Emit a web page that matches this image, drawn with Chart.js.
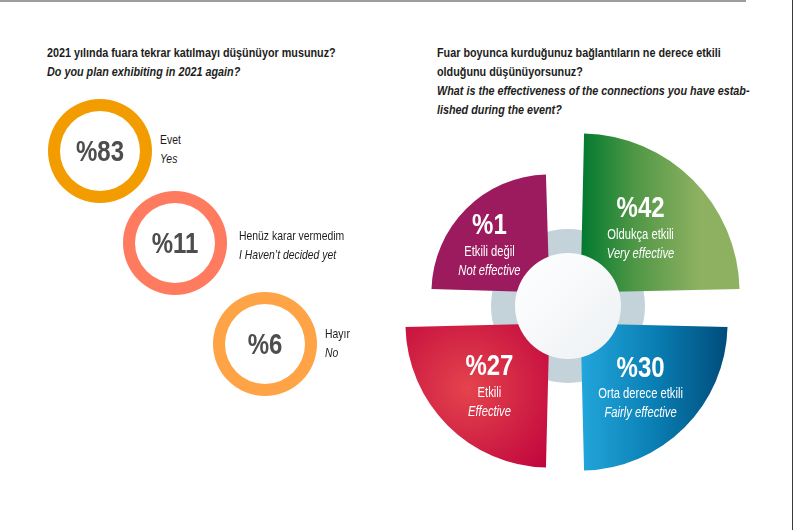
<!DOCTYPE html>
<html lang="tr">
<head>
<meta charset="utf-8">
<title>Fuar anketi</title>
<script src="https://cdn.jsdelivr.net/npm/chart.js@4.4.1/dist/chart.umd.min.js"></script>
<style>
  html, body { margin: 0; padding: 0; background: #fff; }
  body {
    width: 794px; height: 530px; position: relative; overflow: hidden;
    font-family: 'Liberation Sans', Arial, sans-serif;
    color: #1d1d1b;
  }
  .topline { position: absolute; left: 0; top: 0; width: 746px; height: 2px; background: #9d9d9d; }
  .sideline { position: absolute; left: 792px; top: 0; width: 1px; height: 530px; background: #3a3a3a; }
  .narrow { transform: scaleX(0.8); transform-origin: 0 0; }
  .title { position: absolute; top: 43px; font-size: 13.5px; font-weight: bold; line-height: 19px; white-space: nowrap; }
  .title i { display: block; }
  .ring { position: absolute; }
  .lbl { position: absolute; font-size: 13px; line-height: 19px; white-space: nowrap; }
  .lbl i { display: block; }
  #effChart { position: absolute; left: 375px; top: 118px; }
</style>
</head>
<body>
<div class="topline"></div>
<div class="sideline"></div>

<div class="title narrow" style="left:47px">2021 yılında fuara tekrar katılmayı düşünüyor musunuz?<i>Do you plan exhibiting in 2021 again?</i></div>
<div class="title narrow" style="left:437px">Fuar boyunca kurduğunuz bağlantıların ne derece etkili<br>olduğunu düşünüyorsunuz?<i>What is the effectiveness of the connections you have estab-<br>lished during the event?</i></div>

<div id="rings"></div>
<canvas id="effChart" width="380" height="380"></canvas>

<script>
// --- Data ---
const planValues = [83, 11, 6];
const planLabelsTr = ['Evet', 'Henüz karar vermedim', 'Hayır'];
const planLabelsEn = ['Yes', 'I Haven’t decided yet', 'No'];

const effValues = [42, 30, 27, 1];
const effLabelsTr = ['Oldukça etkili', 'Orta derece etkili', 'Etkili', 'Etkili değil'];
const effLabelsEn = ['Very effective', 'Fairly effective', 'Effective', 'Not effective'];

// --- Styles / layout ---
const FONT = "'Liberation Sans', Arial, sans-serif";
const SQUEEZE = 0.8; // fake a condensed face
const planColors = ['#f39c00', '#ff7b60', '#ffa446'];
const ringSpots = [
    { x: 45,  y: 96,  lx: 160, ly: 130 },
    { x: 120, y: 188, lx: 239, ly: 226 },
    { x: 210, y: 289, lx: 325, ly: 324 }
];
// polarArea arcs have no circumference prop, so chart.js both moves them
// by offset/4 and grows their radius by offset/4
const OFFSET = 88;

function narrowText(ctx, txt, x, y) {
    ctx.save();
    ctx.translate(x, y);
    ctx.scale(SQUEEZE, 1);
    ctx.fillText(txt, 0, 0);
    ctx.restore();
}

// --- Left: three rings ---
const ringText = {
    id: 'ringText',
    afterDatasetsDraw(chart) {
        const arc = chart.getDatasetMeta(0).data[0];
        const ctx = chart.ctx;
        ctx.save();
        ctx.fillStyle = '#4d4d4f';
        ctx.font = 'bold 30px ' + FONT;
        ctx.textAlign = 'center';
        ctx.textBaseline = 'middle';
        narrowText(ctx, '%' + chart.data.datasets[0].data[0], arc.x, arc.y + 2);
        ctx.restore();
    }
};

const ringsBox = document.getElementById('rings');
planValues.forEach((v, i) => {
    const spot = ringSpots[i];
    const cv = document.createElement('canvas');
    cv.className = 'ring';
    cv.width = 110; cv.height = 110;
    cv.style.left = spot.x + 'px';
    cv.style.top = spot.y + 'px';
    ringsBox.appendChild(cv);

    const lbl = document.createElement('div');
    lbl.className = 'lbl narrow';
    lbl.style.left = spot.lx + 'px';
    lbl.style.top = spot.ly + 'px';
    lbl.innerHTML = `${planLabelsTr[i]}<i>${planLabelsEn[i]}</i>`;
    ringsBox.appendChild(lbl);

    new Chart(cv, {
        type: 'doughnut',
        data: {
            labels: [planLabelsTr[i]],
            datasets: [{ data: [v], backgroundColor: planColors[i], borderWidth: 0 }]
        },
        options: {
            responsive: false,
            animation: false,
            events: [],
            cutout: 40,
            layout: { padding: 3 },
            plugins: { legend: { display: false }, tooltip: { enabled: false } }
        },
        plugins: [ringText]
    });
});

// --- Right: exploded quadrants ---
const quadStyles = [
    { kind: 'linear', span: 0.75, stops: [[0, '#00792f'], [0.45, '#4f9746'], [1, '#8eb161']] },
    { kind: 'linear', span: 1.0,  stops: [[0, '#22a6db'], [0.5, '#0a7fb4'], [1, '#004c7b']] },
    { kind: 'radial', stops: [[0, '#e4444d'], [1, '#c1063d']] },
    { kind: 'solid', color: '#9c1b5e' }
];

function quadFill(c) {
    const i = c.dataIndex;
    const st = quadStyles[i];
    if (st.kind === 'solid') return st.color;
    const r = c.chart.scales.r;
    if (!r || !isFinite(r.xCenter)) return st.stops[0][1];
    const ctx = c.chart.ctx;
    const cx = r.xCenter, cy = r.yCenter;
    const R = r.getDistanceFromCenterForValue(effValues[i]) + OFFSET / 4;
    let g;
    if (st.kind === 'linear') {
        g = ctx.createLinearGradient(cx, 0, cx + R * st.span, 0);
    } else {
        const gx = cx - 0.57 * R, gy = cy + 0.45 * R;
        g = ctx.createRadialGradient(gx, gy, 0, gx, gy, 0.75 * R);
    }
    st.stops.forEach(s => g.addColorStop(s[0], s[1]));
    return g;
}

const hub = {
    id: 'hub',
    beforeDatasetsDraw(chart) {
        const r = chart.scales.r;
        const ctx = chart.ctx;
        ctx.save();
        ctx.fillStyle = '#c4d3da';
        ctx.beginPath();
        ctx.arc(r.xCenter + 3, r.yCenter - 2, 77, 0, Math.PI * 2);
        ctx.fill();
        ctx.restore();
    },
    afterDatasetsDraw(chart) {
        const r = chart.scales.r;
        const ctx = chart.ctx;
        const hx = r.xCenter + 3, hy = r.yCenter - 2;
        ctx.save();
        const g = ctx.createLinearGradient(hx - 53, hy - 53, hx + 53, hy + 53);
        g.addColorStop(0, '#ffffff');
        g.addColorStop(1, '#edf1f4');
        ctx.fillStyle = g;
        ctx.beginPath();
        ctx.arc(hx, hy, 53, 0, Math.PI * 2);
        ctx.fill();

        // quadrant labels
        const shift = OFFSET / 4;
        ctx.fillStyle = '#ffffff';
        ctx.textAlign = 'center';
        ctx.textBaseline = 'middle';
        chart.getDatasetMeta(0).data.forEach((arc, i) => {
            const mid = (arc.startAngle + arc.endAngle) / 2;
            const R = arc.outerRadius + shift;
            const sx = Math.sign(Math.cos(mid)), sy = Math.sign(Math.sin(mid));
            const px = arc.x + Math.cos(mid) * shift + sx * 60;
            const py = arc.y + Math.sin(mid) * shift + sy * 0.42 * R + 5;
            ctx.font = 'bold 30px ' + FONT;
            narrowText(ctx, '%' + effValues[i], px, py - 22);
            ctx.font = '14px ' + FONT;
            narrowText(ctx, effLabelsTr[i], px, py + 4);
            ctx.font = 'italic 14px ' + FONT;
            narrowText(ctx, effLabelsEn[i], px, py + 23);
        });
        ctx.restore();
    }
};

new Chart(document.getElementById('effChart'), {
    type: 'polarArea',
    data: {
        labels: effLabelsTr,
        datasets: [{
            data: effValues,
            backgroundColor: quadFill,
            borderWidth: 0,
            offset: OFFSET
        }]
    },
    options: {
        responsive: false,
        animation: false,
        events: [],
        scales: {
            r: { min: -95, max: 95, beginAtZero: false, display: false }
        },
        plugins: { legend: { display: false }, tooltip: { enabled: false } }
    },
    plugins: [hub]
});
</script>
</body>
</html>
